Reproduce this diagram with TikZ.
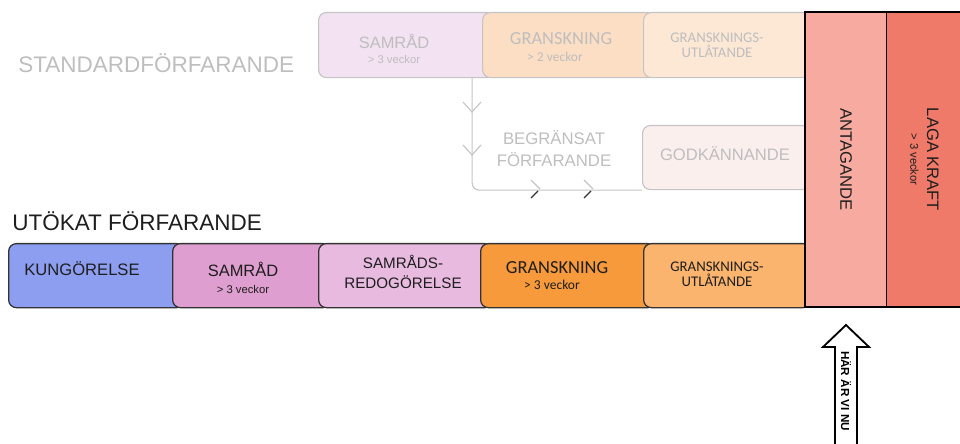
\documentclass[tikz,border=0pt]{standalone}
\usepackage{fontspec}
\setmainfont{Liberation Sans}
\newfontfamily\calibri{Carlito}
\usepackage{tikz}

\definecolor{kungblue}{HTML}{8D9EF0}
\definecolor{samrad}{HTML}{DE9ED0}
\definecolor{samredo}{HTML}{E8BAE0}
\definecolor{gransk}{HTML}{F79A3C}
\definecolor{granutl}{HTML}{FAB46E}
\definecolor{antag}{HTML}{F7AAA0}
\definecolor{laga}{HTML}{F07A6A}
\definecolor{samradpale}{HTML}{F3E2F2}
\definecolor{granskpale}{HTML}{FCDEC4}
\definecolor{granutlpale}{HTML}{FDE8D6}
\definecolor{godkpale}{HTML}{FBEFEE}
\definecolor{paleline}{HTML}{C4C4C4}
\definecolor{paletext}{HTML}{BEBEBE}
\definecolor{tabline}{HTML}{333333}
\definecolor{darktext}{HTML}{1E1E1E}

\tikzset{
  tab/.style={draw=tabline, line width=0.9pt, rounded corners=5.5pt, anchor=north west, minimum height=1.6cm},
  paletab/.style={draw=paleline, line width=0.8pt, rounded corners=5.5pt, anchor=north west, minimum height=1.625cm},
  flow/.style={draw=paleline, line width=0.8pt},
  pole/.style={draw=black, line width=0.8pt, rotate=-90, minimum width=7.375cm, align=center, text=darktext},
  dark/.style={text=darktext},
  pale/.style={text=paletext},
}

\begin{document}
\begin{tikzpicture}[x=0.025cm, y=0.025cm]
\tikzstyle{every node}+=[inner sep=0pt]
\useasboundingbox (0,0) rectangle (960,-444);

% headings
\node[pale, anchor=west, font=\fontsize{16}{19}\selectfont] (std) at (18,-63) {STANDARDFÖRFARANDE};
\node[dark, anchor=west, font=\fontsize{16}{19}\selectfont] (utok) at (12,-221) {UTÖKAT FÖRFARANDE};

% standardförfarande, upper row
\node[paletab, fill=samradpale, minimum width=4.4cm] (samA) at (318,-12) {};
\node[paletab, fill=granskpale, minimum width=4.325cm] (granA) at (482,-12) {};
\node[paletab, fill=granutlpale, minimum width=4.175cm] (utlA) at (643,-12) {};
\node[paletab, fill=godkpale, minimum width=4.2cm, minimum height=1.6cm] (godk) at (642,-125) {};

\node[pale, font=\fontsize{11.7}{14}\selectfont] (samAT) at (394,-41) {SAMRÅD};
\node[pale, font=\fontsize{8}{10}\selectfont] (samAV) at (394,-59) {> 3 veckor};
\node[pale, font=\calibri\fontsize{13.1}{15}\selectfont] (granAT) at (561,-39) {GRANSKNING};
\node[pale, font=\calibri\fontsize{9.6}{11}\selectfont] (granAV) at (555,-56.5) {> 2 veckor};
\node[pale, align=center, font=\calibri\fontsize{10.5}{10.7}\selectfont] (utlAT) at (717,-45) {GRANSKNINGS-\\UTLÅTANDE};
\node[pale, font=\fontsize{11.8}{14}\selectfont] (godkT) at (725,-154) {GODKÄNNANDE};
\node[pale, align=center, font=\fontsize{11.9}{15.6}\selectfont] (begrT) at (554,-149) {BEGRÄNSAT\\FÖRFARANDE};

% begränsat förfarande
\draw[flow, rounded corners=5pt] ([xshift=-7pt]granA.south west) |- (godk.south west);
\foreach \y in {112,155}
  \draw[flow] (463,-\y+10) -- (472,-\y) -- (481,-\y+10);
\foreach \x in {540,593} {
  \draw[flow] (\x-9,-180) -- (\x,-189);
  \draw[tabline, line width=0.8pt] (\x-2,-191) -- (\x-9,-198);
}

% utökat förfarande, lower row
\node[tab, fill=kungblue, minimum width=4.4cm] (kung) at (8,-243) {};
\node[tab, fill=samrad, minimum width=3.95cm] (samB) at (172,-243) {};
\node[tab, fill=samredo, minimum width=4.35cm] (redo) at (318,-243) {};
\node[tab, fill=gransk, minimum width=4.375cm] (granB) at (480,-243) {};
\node[tab, fill=granutl, minimum width=4.175cm] (utlB) at (643,-243) {};

\node[dark, font=\fontsize{11.8}{14}\selectfont] (kungT) at (82,-269) {KUNGÖRELSE};
\node[dark, font=\fontsize{11.7}{14}\selectfont] (samBT) at (243,-269) {SAMRÅD};
\node[dark, font=\fontsize{8}{10}\selectfont] (samBV) at (243,-289) {> 3 veckor};
\node[dark, align=center, font=\fontsize{10.8}{14.2}\selectfont] (redoT) at (403,-272) {SAMRÅDS-\\REDOGÖRELSE};
\node[dark, font=\calibri\fontsize{13.1}{15}\selectfont] (granBT) at (557,-268) {GRANSKNING};
\node[dark, font=\calibri\fontsize{9.6}{11}\selectfont] (granBV) at (552,-285) {> 3 veckor};
\node[dark, align=center, font=\calibri\fontsize{10.5}{10.7}\selectfont] (utlBT) at (717,-274) {GRANSKNINGS-\\UTLÅTANDE};

% antagande och laga kraft
\node[pole, fill=antag, minimum height=2.05cm, font=\fontsize{11.8}{14}\selectfont] (antag) at (846,-159.5) {ANTAGANDE};
\node[pole, fill=laga, minimum height=1.9cm] (laga) at (924.5,-159.5)
  {{\fontsize{11.8}{14}\selectfont LAGA KRAFT}\\{\fontsize{8}{11}\selectfont > 3 veckor}};

% här är vi nu
\draw[black, line width=1.3pt, fill=white] (835,-450) -- (835,-347) -- (823,-347) -- (846,-325)
  -- (869,-347) -- (857,-347) -- (857,-450);
\node[rotate=-90, font=\bfseries\fontsize{8.3}{10}\selectfont] (nu) at (846,-391) {HÄR ÄR VI NU};
\end{tikzpicture}
\end{document}
